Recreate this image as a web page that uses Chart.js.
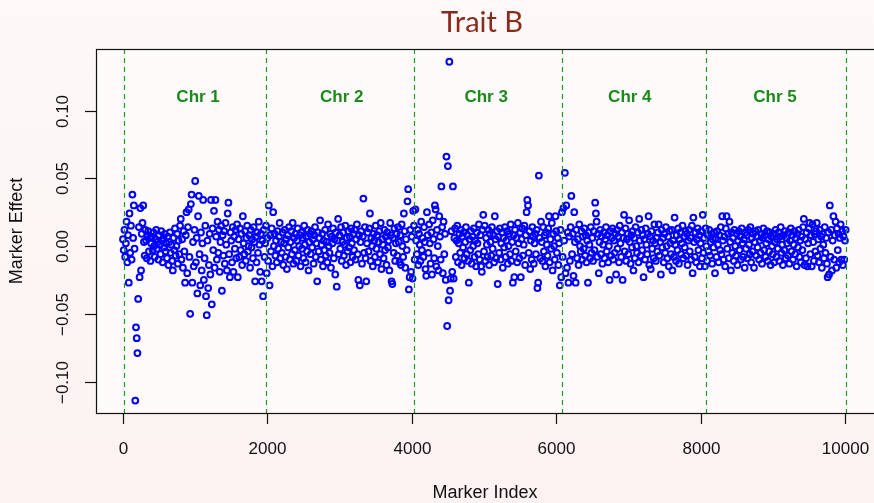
<!DOCTYPE html>
<html>
<head>
<meta charset="utf-8">
<script src="https://cdn.jsdelivr.net/npm/chart.js@4.4.0/dist/chart.umd.min.js"></script>
<style>
  html, body { margin: 0; padding: 0; }
  body { width: 874px; height: 503px; overflow: hidden; background: linear-gradient(#fdf9f8, #fbf2f1); }
  #wrap { position: relative; width: 874px; height: 503px; }
</style>
</head>
<body>
<div id="wrap"><canvas id="chart" width="874" height="503"></canvas></div>
<script>
// one point every 10 markers, effects in units of 0.001
const markerStep = 10;
const markerEffects = [
  5,-3,12,-8,2,18,-12,8,-27,24,-5,15,-10,38,6,30,-2,-114,-60,-68,
  -79,-39,14,-23,28,-18,9,17,30,3,-7,12,4,-9,8,11,-4,6,-11,2,
  7,-3,10,0,-8,5,12,-2,3,-10,8,1,-6,11,4,-12,6,-1,9,-4,
  2,-9,7,-14,3,10,-5,1,-11,-18,6,-3,13,-7,0,9,-13,4,-6,15,
  20,-10,5,-16,11,-4,-27,8,25,-20,14,27,-8,-50,31,38,-27,3,-15,12,
  48,-12,6,-35,22,37,-6,-29,10,-18,2,34,-25,-9,15,-37,-51,4,-31,-14,
  9,-21,34,-43,13,-3,26,-16,34,7,-10,18,-5,12,-19,3,15,-33,8,-7,
  11,-13,17,1,-18,24,32,-6,-23,10,4,-12,14,-19,7,-2,12,-9,16,-23,
  5,-8,13,-3,9,-14,22,2,-6,11,-11,6,15,-4,0,8,-16,12,-1,5,
  -9,14,3,-26,7,-12,10,-5,18,1,-19,9,-26,4,-37,12,-8,2,15,-20,
  6,-11,30,-29,8,-4,13,-15,25,0,9,-7,4,-12,11,-2,7,17,-9,3,
  -5,10,-14,2,12,-8,5,-17,8,-1,14,-10,3,11,-6,17,-13,6,-3,9,
  -11,4,13,-7,0,8,-15,10,-2,6,-9,15,1,-12,7,-4,12,-18,3,9,
  -6,11,-1,5,-13,8,14,-8,2,-26,10,-4,6,19,-10,1,9,-15,4,-3,
  12,-7,3,-12,16,0,-5,9,-16,7,2,13,-9,5,-21,10,-30,4,20,-6,
  8,-2,14,-11,3,10,-7,1,15,-14,6,-4,11,-1,7,-12,13,2,-8,9,
  -3,12,-10,5,16,-6,-25,8,-29,3,11,-13,7,35,-5,14,-9,-26,2,10,
  -4,13,24,-11,6,0,-15,9,4,-8,15,-2,8,-12,3,11,-6,17,-17,5,
  1,-9,12,-3,7,-14,10,-1,4,-18,17,8,-26,-28,6,-5,13,-11,2,9,
  -7,14,3,-12,8,-14,16,0,-8,24,11,-16,5,-3,33,42,-32,-23,12,-19,
  7,-24,26,15,-10,27,4,-6,12,-14,9,1,-11,18,-3,6,-8,14,3,-17,
  -22,25,8,-5,16,2,-13,10,-21,19,5,-9,30,27,-15,12,0,-18,22,7,
  -10,44,14,-20,18,-6,9,-25,66,-59,59,-40,136,-33,-24,11,-19,44,-24,6,
  13,-8,4,15,-12,2,9,-5,12,-14,7,-1,10,-9,3,14,-6,8,-11,-27,
  5,-3,11,-13,7,0,13,-8,4,-15,10,2,-6,16,-10,8,-15,-19,12,23,
  -4,15,-11,6,1,-8,12,-14,9,3,-7,14,-2,8,-12,22,5,-9,11,-28,
  7,-5,13,-10,2,10,-16,6,-1,14,-8,4,11,-13,0,9,-6,16,-11,3,
  -27,8,-23,12,-4,6,-12,17,2,-9,10,-23,5,13,-7,1,15,-14,8,25,
  34,30,-5,11,-17,4,-10,14,7,-13,2,9,-6,12,-31,-27,52,6,-9,18,
  3,-11,14,-4,8,-15,10,1,-7,13,22,-12,5,-2,17,-18,9,0,-10,22,
  11,-5,6,-14,2,-29,12,-23,25,-8,28,4,54,-20,30,-16,10,-27,7,-11,
  14,37,-6,9,-22,25,3,-27,12,-9,5,-14,16,0,-4,11,-10,7,-2,13,
  -7,8,-12,4,-27,10,1,-9,14,-5,6,-11,11,-3,32,24,18,-8,9,-20,
  3,12,-6,7,-13,1,10,-9,5,14,-4,8,-12,0,-25,11,-7,6,13,-10,
  4,-5,9,-21,12,-2,7,-12,15,2,-8,10,-25,6,23,-4,13,-11,5,9,
  -6,19,3,-13,8,-1,11,-18,6,-9,14,0,-5,10,-12,20,4,-7,12,-3,
  8,-23,5,-10,13,1,-6,9,22,-14,7,-17,11,-2,4,-9,16,2,-11,6,
  -4,10,16,-7,3,-21,12,-1,6,-12,9,-5,14,0,-9,7,-15,11,2,-6,
  12,-18,4,-8,21,1,-11,8,-3,13,-13,5,10,-6,2,15,-9,7,-1,11,
  -7,9,-14,4,12,-4,6,-10,15,-20,21,3,-8,10,-12,5,13,-3,8,-15,
  2,11,-9,23,-5,6,-15,13,0,-11,8,-4,12,-7,3,9,-13,5,-1,10,
  -20,6,-8,11,1,-12,8,-3,14,-6,22,4,-10,7,-15,13,22,-2,9,-9,
  18,3,-18,10,-5,6,-11,12,0,-7,9,-14,4,11,-3,7,-10,13,2,-8,
  5,-16,10,-2,8,-9,12,1,-6,14,-12,6,-4,9,-16,3,11,-7,7,-1,
  12,-10,4,-5,9,-13,6,13,-3,8,-8,2,11,-11,5,-4,10,-14,7,0,
  -6,9,-12,3,12,-8,5,-2,10,-11,7,14,-5,1,-14,8,-3,11,-9,6,
  2,-7,10,-13,4,13,-4,8,-10,1,11,-6,6,-15,9,-1,12,-8,4,-12,
  7,-3,14,20,-14,5,-9,10,-15,2,13,17,-6,8,-15,16,3,-11,9,-4,
  11,17,-7,5,-12,12,-2,7,-16,9,1,-9,14,-5,6,-13,-23,10,-21,30,
  -8,12,-18,4,22,-10,8,18,-16,13,-3,9,-12,6,16,-10,11,-14,7,-10,
  4,12
];

const chrNames = ['Chr 1', 'Chr 2', 'Chr 3', 'Chr 4', 'Chr 5'];
const chrBounds = [14, 1980, 4030, 6080, 8075, 10014];
const chrLabelX = [1040, 3030, 5030, 7020, 9030];
const chrLabelY = 0.110;

const xTicks = [0, 2000, 4000, 6000, 8000, 10000];
const yTicks = [-0.10, -0.05, 0.00, 0.05, 0.10];
const yTickLabels = ['\u22120.10', '\u22120.05', '0.00', '0.05', '0.10'];

const points = markerEffects.map((v, i) => ({ x: i * markerStep, y: v / 1000 }));

const sansFont = '"Liberation Sans", Arial, Helvetica, sans-serif';
const lineGreen = '#1f9c1f';
const textGreen = '#1a8a1a';

const rStyle = {
  id: 'rStyle',
  beforeDatasetsDraw(chart) {
    const { ctx, chartArea: a } = chart;
    ctx.save();
    ctx.fillStyle = '#fefbfa';
    ctx.fillRect(a.left, a.top, a.right - a.left, a.bottom - a.top);
    ctx.restore();
  },
  afterDatasetsDraw(chart) {
    const { ctx, chartArea: a, scales: { x, y } } = chart;
    ctx.save();
    // chromosome boundaries
    ctx.strokeStyle = lineGreen;
    ctx.lineWidth = 1.2;
    ctx.setLineDash([5, 4]);
    chrBounds.forEach(b => {
      const px = Math.round(x.getPixelForValue(b)) + 0.5;
      ctx.beginPath();
      ctx.moveTo(px, a.top);
      ctx.lineTo(px, a.bottom);
      ctx.stroke();
    });
    ctx.setLineDash([]);
    ctx.fillStyle = textGreen;
    ctx.font = 'bold 17px ' + sansFont;
    ctx.textAlign = 'center';
    ctx.textBaseline = 'middle';
    chrNames.forEach((n, i) => {
      ctx.fillText(n, x.getPixelForValue(chrLabelX[i]), y.getPixelForValue(chrLabelY));
    });
    ctx.restore();
  },
  afterDraw(chart) {
    const { ctx, chartArea: a, scales: { x, y } } = chart;
    ctx.save();
    ctx.strokeStyle = '#111';
    ctx.lineWidth = 1.2;
    ctx.strokeRect(a.left + 0.5, a.top + 0.5, a.right - a.left + 4, a.bottom - a.top);

    // x axis
    ctx.fillStyle = '#111';
    ctx.font = '17px ' + sansFont;
    ctx.textAlign = 'center';
    ctx.textBaseline = 'middle';
    xTicks.forEach(t => {
      const px = Math.round(x.getPixelForValue(t)) + 0.5;
      ctx.beginPath();
      ctx.moveTo(px, a.bottom);
      ctx.lineTo(px, a.bottom + 11);
      ctx.stroke();
      ctx.fillText(String(t), px, 449);
    });

    // y axis
    yTicks.forEach((t, i) => {
      const py = Math.round(y.getPixelForValue(t)) + 0.5;
      ctx.beginPath();
      ctx.moveTo(a.left - 11, py);
      ctx.lineTo(a.left, py);
      ctx.stroke();
      ctx.save();
      ctx.translate(63, py);
      ctx.rotate(-Math.PI / 2);
      ctx.fillText(yTickLabels[i], 0, 0);
      ctx.restore();
    });

    // axis titles
    ctx.font = '18px ' + sansFont;
    ctx.fillText('Marker Index', 485, 493);
    ctx.save();
    ctx.translate(17, 231);
    ctx.rotate(-Math.PI / 2);
    ctx.fillText('Marker Effect', 0, 0);
    ctx.restore();

    // main title
    ctx.fillStyle = '#8a2a1c';
    ctx.font = '29px Lato, "Open Sans", sans-serif';
    ctx.fillText('Trait B', 482, 23);
    ctx.restore();
  }
};

new Chart(document.getElementById('chart'), {
  type: 'scatter',
  data: {
    datasets: [{
      data: points,
      pointStyle: 'circle',
      pointRadius: 2.9,
      pointBorderWidth: 2,
      pointBorderColor: '#0000ff',
      pointBackgroundColor: 'rgba(0,0,0,0)',
      showLine: false
    }]
  },
  options: {
    responsive: false,
    animation: false,
    devicePixelRatio: 1,
    events: [],
    layout: { autoPadding: false, padding: { left: 96, top: 49, right: 0, bottom: 90 } },
    plugins: { legend: { display: false }, tooltip: { enabled: false } },
    scales: {
      x: { type: 'linear', min: -374, max: 10402, display: false },
      y: { type: 'linear', min: -0.1232, max: 0.1454, display: false }
    }
  },
  plugins: [rStyle]
});
</script>
</body>
</html>
